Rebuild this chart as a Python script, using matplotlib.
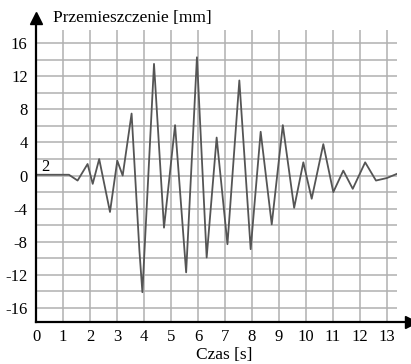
import matplotlib
matplotlib.use("Agg")
import matplotlib.pyplot as plt

# displacement record (curve 2)
czas = [0.0, 1.22, 1.54, 1.91, 2.10, 2.34, 2.74, 3.01, 3.21, 3.54, 3.83, 3.94,
        4.37, 4.74, 5.15, 5.56, 5.96, 6.32, 6.69, 7.09, 7.53, 7.95, 8.32,
        8.73, 9.14, 9.56, 9.90, 10.21, 10.64, 11.01, 11.38, 11.73, 12.19,
        12.59, 12.99, 13.36]
przem = [0.1, 0.1, -0.6, 1.4, -1.0, 2.0, -4.4, 1.8, 0.0, 7.5, -9.1, -14.1,
         13.5, -6.3, 6.1, -11.7, 14.3, -9.9, 4.6, -8.3, 11.5, -8.9, 5.3,
         -5.9, 6.1, -3.9, 1.6, -2.8, 3.8, -2.0, 0.6, -1.6, 1.6,
         -0.6, -0.3, 0.2]

x_ticks = list(range(0, 14))
y_ticks = list(range(-16, 17, 4))
y_grid = list(range(-16, 17, 2))

plt.rcParams['font.family'] = ['Liberation Serif', 'DejaVu Serif']
plt.rcParams['axes.unicode_minus'] = False

fig = plt.figure(figsize=(4.11, 3.64), dpi=100)
ax = fig.add_axes([0.0876, 0.1154, 0.8784, 0.8022])
ax.set_xlim(0, 13.37)
ax.set_ylim(-17.7, 17.6)

for v in y_grid:
    ax.axhline(v, color='#b0b0b0', lw=1.1, zorder=1)
for t in x_ticks[1:]:
    ax.axvline(t, color='#b0b0b0', lw=1.1, zorder=1)

ax.plot(czas, przem, color='#555555', lw=1.3, zorder=3,
        solid_joinstyle='round')
ax.text(0.2, 1.0, '2', fontsize=12, va='center', ha='left')

ax.set_xticks(x_ticks)
ax.set_yticks(y_ticks)
ax.tick_params(length=0, labelsize=12, pad=5)
ax.tick_params(axis='y', pad=6)
for s in ['top', 'right', 'left', 'bottom']:
    ax.spines[s].set_visible(False)

# axes with arrow heads
ax.plot([0, 0], [0, 1.018], transform=ax.transAxes, color='black', lw=1.6,
        clip_on=False, zorder=5)
ax.plot([0, 1.03], [0, 0], transform=ax.transAxes, color='black', lw=1.6,
        clip_on=False, zorder=5)
ax.plot([0], [1.04], marker='^', ms=9, color='black', transform=ax.transAxes,
        clip_on=False, zorder=6)
ax.plot([1.04], [0], marker='>', ms=9, color='black', transform=ax.transAxes,
        clip_on=False, zorder=6)

fig.text(53 / 411, 1 - 18 / 364, 'Przemieszczenie [mm]', fontsize=12.5,
         ha='left', va='center')
fig.text(224 / 411, 1 - 355 / 364, 'Czas [s]', fontsize=12.5,
         ha='center', va='center')

fig.savefig('out.png', dpi=100)
